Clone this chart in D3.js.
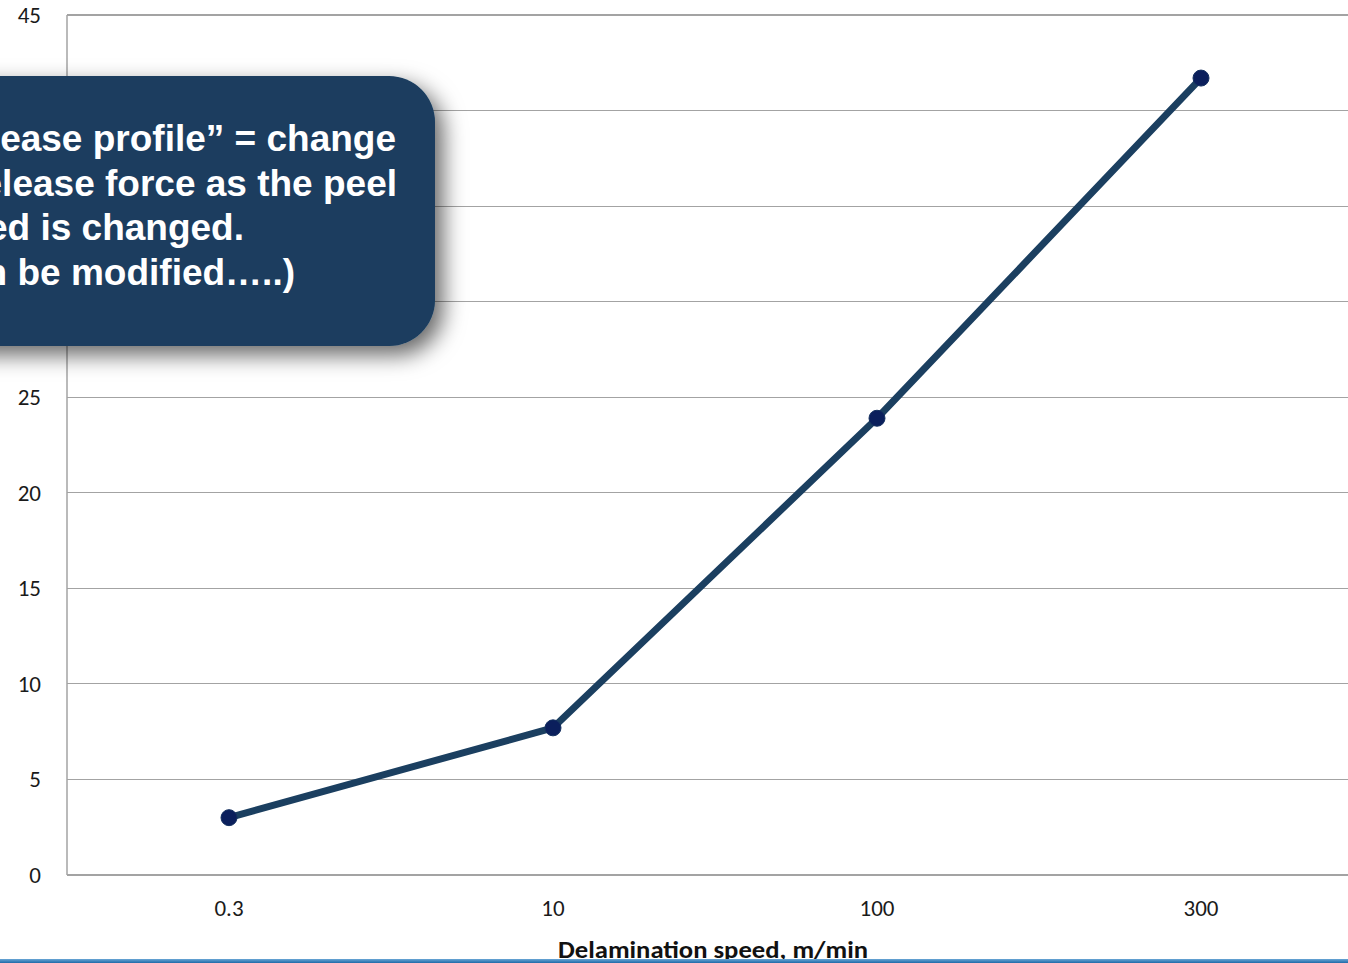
<!DOCTYPE html>
<html>
<head>
<meta charset="utf-8">
<script src="https://cdn.jsdelivr.net/npm/d3@7"></script>
<style>
  html, body { margin: 0; padding: 0; background: #ffffff; overflow: hidden; }
  svg { display: block; }
</style>
</head>
<body>
<script>
// Release force versus delamination speed
const speeds = ["0.3", "10", "100", "300"];
const releaseForce = [3.0, 7.7, 23.9, 41.7];
const yTicks = [0, 5, 10, 15, 20, 25, 30, 35, 40, 45];
const xTitle = "Delamination speed, m/min";
const noteLines = [
  "\u201CRelease profile\u201D = change",
  "in release force as the peel",
  "speed is changed.",
  "(Can be modified\u2026..)"
];

const W = 1348, H = 963;
const svg = d3.select("body").append("svg").attr("width", W).attr("height", H);

const plot = { left: 67, right: 1363, top: 15, bottom: 875 };
const labelFont = "Carlito, Lato, 'Open Sans', sans-serif";

const x = d3.scaleBand().domain(speeds).range([plot.left, plot.right]);
const y = d3.scaleLinear().domain([0, 45]).range([plot.bottom, plot.top]);

// Horizontal gridlines
svg.append("g")
  .selectAll("line")
  .data(yTicks)
  .join("line")
  .attr("x1", plot.left).attr("x2", plot.right)
  .attr("y1", d => y(d)).attr("y2", d => y(d))
  .attr("stroke", "#a3a3a3")
  .attr("stroke-width", d => d === 0 ? 1.5 : 1.2)
  .attr("shape-rendering", "crispEdges");

// Y axis line
svg.append("line")
  .attr("x1", plot.left).attr("x2", plot.left)
  .attr("y1", plot.top).attr("y2", plot.bottom)
  .attr("stroke", "#a3a3a3").attr("stroke-width", 1.5);

// Y tick labels
const yAxis = d3.axisLeft(y).tickValues(yTicks).tickSize(0).tickPadding(26);
const gy = svg.append("g").attr("transform", `translate(${plot.left},0)`).call(yAxis);
gy.select(".domain").remove();
gy.selectAll("text")
  .attr("font-family", labelFont)
  .attr("font-size", 23)
  .attr("fill", "#1a1a1a")
  .attr("dy", "0.32em");

// X tick labels
const xAxis = d3.axisBottom(x).tickSize(0).tickPadding(25);
const gx = svg.append("g").attr("transform", `translate(0,${plot.bottom})`).call(xAxis);
gx.select(".domain").remove();
gx.selectAll("text")
  .attr("font-family", labelFont)
  .attr("font-size", 23)
  .attr("fill", "#1a1a1a");

// X axis title
svg.append("text")
  .attr("x", 713).attr("y", 958)
  .attr("text-anchor", "middle")
  .attr("font-family", labelFont)
  .attr("font-weight", "bold")
  .attr("font-size", 24)
  .attr("textLength", 310)
  .attr("lengthAdjust", "spacingAndGlyphs")
  .attr("fill", "#111")
  .text(xTitle);

// Series line and markers
const pts = speeds.map((s, i) => ({ s, v: releaseForce[i] }));
const line = d3.line().x(d => x(d.s) + x.bandwidth() / 2).y(d => y(d.v));
svg.append("path")
  .datum(pts)
  .attr("d", line)
  .attr("fill", "none")
  .attr("stroke", "#1b3f60")
  .attr("stroke-width", 7)
  .attr("stroke-linejoin", "round");
svg.append("g")
  .selectAll("circle")
  .data(pts)
  .join("circle")
  .attr("cx", d => x(d.s) + x.bandwidth() / 2)
  .attr("cy", d => y(d.v))
  .attr("r", 8)
  .attr("fill", "#0b1f5c")
  .attr("stroke", "#143060")
  .attr("stroke-width", 1);

// Callout box with soft shadow
const defs = svg.append("defs");
const f = defs.append("filter").attr("id", "soft-shadow")
  .attr("x", "-20%").attr("y", "-30%").attr("width", "150%").attr("height", "170%");
f.append("feDropShadow")
  .attr("dx", 8).attr("dy", 9)
  .attr("stdDeviation", 11)
  .attr("flood-color", "#000")
  .attr("flood-opacity", 0.6);

const note = svg.append("g");
note.append("rect")
  .attr("x", -120).attr("y", 76)
  .attr("width", 555).attr("height", 270)
  .attr("rx", 46).attr("ry", 46)
  .attr("fill", "#1a3d5e")
  .attr("filter", "url(#soft-shadow)");

const noteRight = [396, 397, 244, 295];
note.selectAll("text")
  .data(noteLines)
  .join("text")
  .attr("x", (d, i) => noteRight[i])
  .attr("y", (d, i) => 151 + i * 44.6)
  .attr("text-anchor", "end")
  .attr("font-family", "'Liberation Sans', Arial, sans-serif")
  .attr("font-weight", "bold")
  .attr("font-size", 37)
  .attr("fill", "#ffffff")
  .text(d => d);

// Bottom rule
const grad = defs.append("linearGradient").attr("id", "rule").attr("x1", 0).attr("x2", 0).attr("y1", 0).attr("y2", 1);
grad.append("stop").attr("offset", "0%").attr("stop-color", "#6aa6d6");
grad.append("stop").attr("offset", "100%").attr("stop-color", "#1f6aa8");
svg.append("rect")
  .attr("x", 0).attr("y", 959)
  .attr("width", W).attr("height", 4)
  .attr("fill", "url(#rule)");
</script>
</body>
</html>
